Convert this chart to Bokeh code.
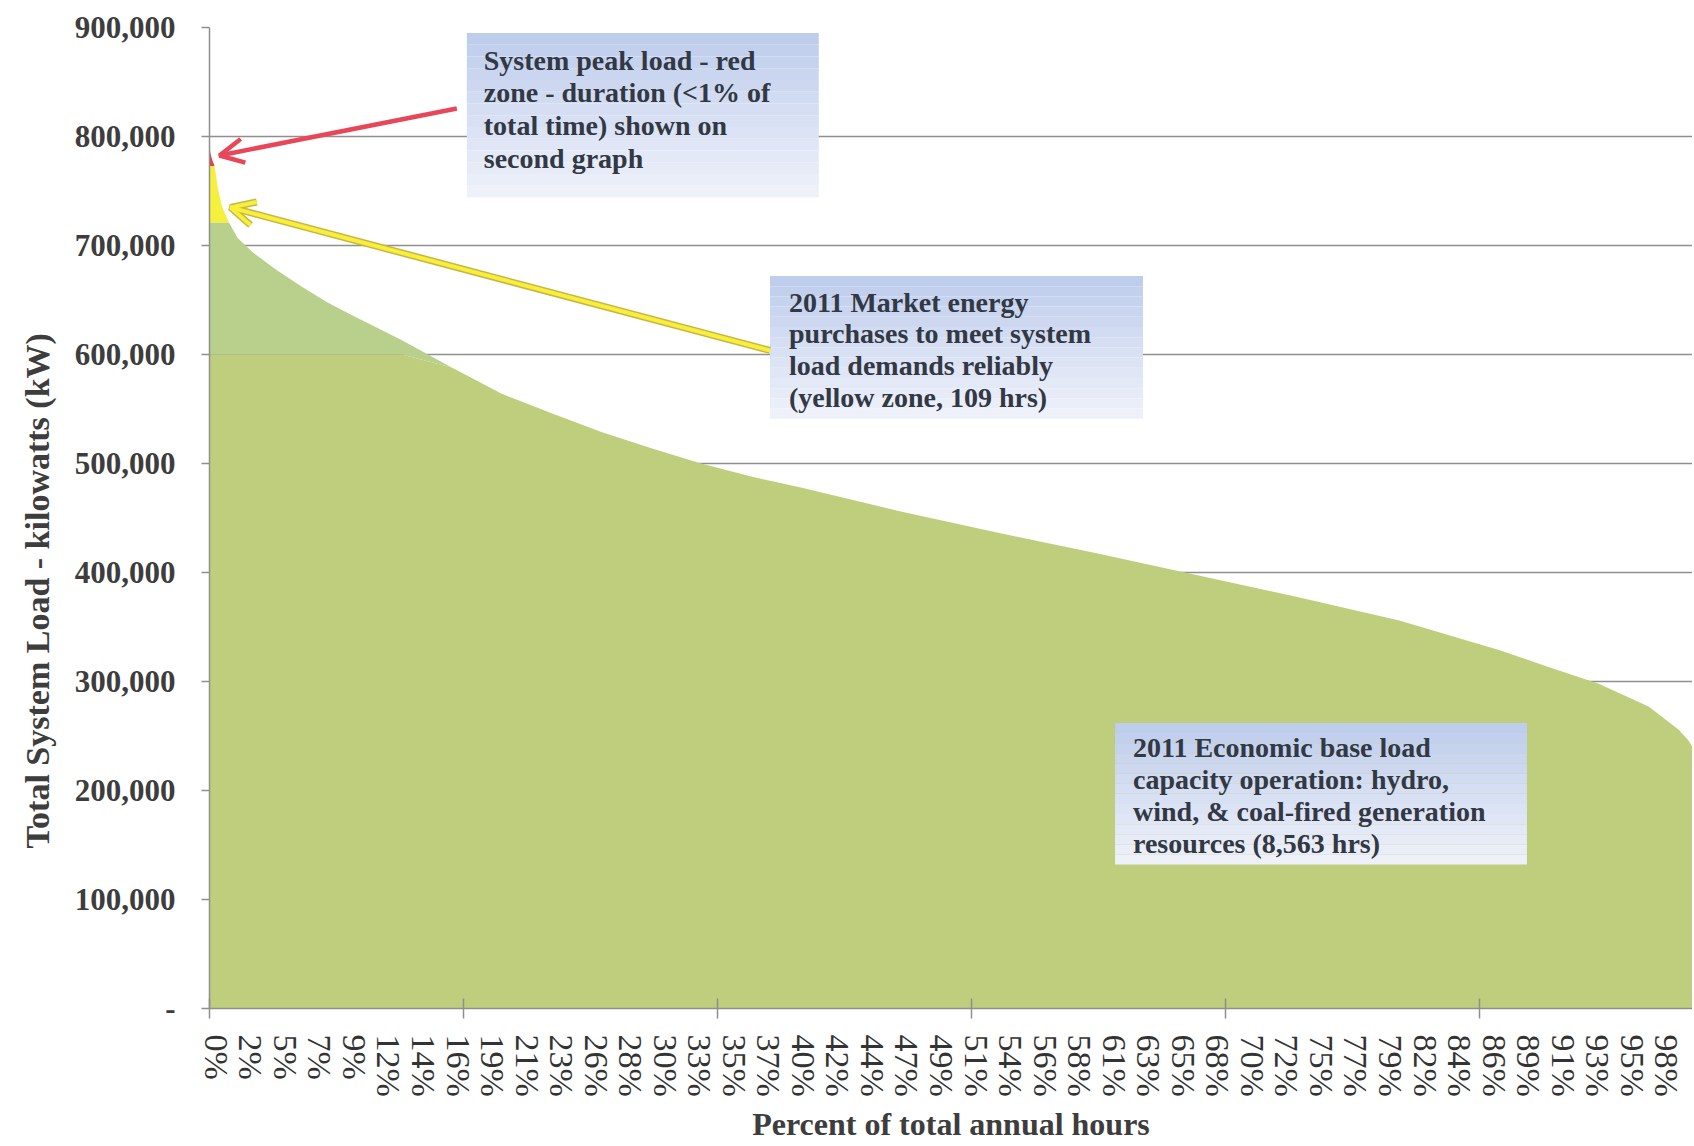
import numpy as np
from bokeh.plotting import figure
from bokeh.models import (FixedTicker, NumeralTickFormatter, Label, BoxAnnotation,
                          Arrow, OpenHead, Range1d, Title)
from bokeh.embed import file_html
from bokeh.resources import INLINE

# ---------------- data ----------------
hours = [0, 5, 15, 30, 50, 75, 115, 165, 253, 400, 548, 695, 842, 1137, 1431, 1726,
         2021, 2315, 2610, 2904, 3200, 3493, 4083, 4672, 5261, 5850, 6439, 7028, 7617,
         7914, 8206, 8501, 8677, 8735, 8760]
load_kw = [792000, 785000, 779000, 773000, 752000, 735000, 721000, 707000, 694000,
           677000, 662000, 648000, 636000, 613000, 588000, 564000, 546000, 529000,
           514000, 500000, 488000, 478000, 456000, 436000, 417000, 397000, 377000,
           356000, 329000, 313000, 298000, 277000, 256000, 246000, 240000]
base_cap_kw = 721000      # economic base load capacity
market_cap_kw = 773000    # above this: system peak (red zone)
tier_split_kw = 600000    # shade change inside the green zone

x_tick_labels = ["0%", "2%", "5%", "7%", "9%", "12%", "14%", "16%", "19%", "21%",
                 "23%", "26%", "28%", "30%", "33%", "35%", "37%", "40%", "42%",
                 "44%", "47%", "49%", "51%", "54%", "56%", "58%", "61%", "63%",
                 "65%", "68%", "70%", "72%", "75%", "77%", "79%", "82%", "84%",
                 "86%", "89%", "91%", "93%", "95%", "98%"]
x_label_step_hours = 204
x_label_center_shift = 40   # category labels sit at the category centre
x_tick_marks = [0, 1500, 3000, 4500, 6000, 7500]
y_ticks = [0, 100000, 200000, 300000, 400000, 500000, 600000, 700000, 800000, 900000]

SERIF = "Liberation Serif"
GRID = "#8f8f8f"

p = figure(width=1692, height=1144, x_range=Range1d(0, 8760), y_range=Range1d(0, 900000),
           output_backend="svg", toolbar_location=None,
           min_border_left=207, min_border_right=0, min_border_top=27, min_border_bottom=136)
p.outline_line_color = None
p.background_fill_color = "white"

# ---------------- areas ----------------
load = np.array(load_kw, dtype=float)
x = np.array(hours, dtype=float)
green_low = np.minimum(load, tier_split_kw)
green_high = np.minimum(load, base_cap_kw)
yellow_top = np.minimum(np.maximum(load, base_cap_kw), market_cap_kw)
red_top = np.maximum(load, market_cap_kw)

p.varea(x=x, y1=np.zeros_like(load), y2=green_low, color="#bfce7d")
p.varea(x=x, y1=green_low, y2=green_high, color="#b8d08b")
p.varea(x=x, y1=np.full_like(load, base_cap_kw), y2=yellow_top, color="#f5ef3e")
p.varea(x=x, y1=np.full_like(load, market_cap_kw), y2=red_top, color="#e2404f")

# ---------------- axes ----------------
p.xgrid.visible = False
p.ygrid.ticker = FixedTicker(ticks=y_ticks)
p.ygrid.grid_line_color = GRID
p.ygrid.grid_line_width = 1.6

ya = p.yaxis[0]
ya.ticker = FixedTicker(ticks=y_ticks)
ya.formatter = NumeralTickFormatter(format="0,0")
ya.major_label_overrides = {0: "-"}
ya.major_label_text_font = SERIF
ya.major_label_text_font_style = "bold"
ya.major_label_text_font_size = "31px"
ya.major_label_text_color = "#3d3d3d"
ya.major_label_standoff = 26
ya.major_tick_out = 8
ya.major_tick_in = 0
ya.minor_tick_line_color = None
ya.axis_line_color = GRID
ya.axis_line_width = 1.5
ya.major_tick_line_color = GRID
ya.major_tick_line_width = 1.5

label_pos = [i * x_label_step_hours + x_label_center_shift for i in range(len(x_tick_labels))]
xa = p.xaxis[0]
xa.ticker = FixedTicker(ticks=label_pos, minor_ticks=x_tick_marks)
xa.major_label_overrides = {pos: lab for pos, lab in zip(label_pos, x_tick_labels)}
xa.major_label_orientation = "vertical"
xa.major_label_text_font = SERIF
xa.major_label_text_font_size = "34px"
xa.major_label_text_color = "#333333"
xa.major_label_standoff = 16
xa.major_tick_line_color = None
xa.major_tick_out = 0
xa.major_tick_in = 0
xa.minor_tick_line_color = GRID
xa.minor_tick_line_width = 1.5
xa.minor_tick_in = 10
xa.minor_tick_out = 10
xa.axis_line_color = GRID
xa.axis_line_width = 1.5
xa.axis_label = "Percent of total annual hours"
xa.axis_label_text_font = SERIF
xa.axis_label_text_font_style = "bold"
xa.axis_label_text_font_size = "32px"
xa.axis_label_text_color = "#3d3d3d"
xa.axis_label_standoff = 6

# y-axis title, shifted down like in the reference
p.add_layout(Title(text="Total System Load - kilowatts (kW)", align="left",
                   offset=160, standoff=32, text_font=SERIF, text_font_style="bold",
                   text_font_size="34px", text_color="#3d3d3d"), "left")

# ---------------- annotation boxes ----------------
def hexmix(c1, c2, t):
    a = [int(c1[i:i + 2], 16) for i in (1, 3, 5)]
    b = [int(c2[i:i + 2], 16) for i in (1, 3, 5)]
    return "#" + "".join("%02x" % round(a[k] + (b[k] - a[k]) * t) for k in range(3))

def note_box(left, right, top, bottom, lines, text_x, line_ys):
    n = 14
    h = (top - bottom) / n
    for i in range(n):
        p.add_layout(BoxAnnotation(left=left, right=right, top=top - i * h,
                                   bottom=top - (i + 1) * h - 1,
                                   fill_color=hexmix("#bfcdec", "#eef1f9", i / (n - 1)),
                                   fill_alpha=1.0, line_color=None))
    for txt, yy in zip(lines, line_ys):
        p.add_layout(Label(x=text_x, y=yy, text=txt, text_baseline="middle",
                           text_font=SERIF, text_font_style="bold",
                           text_font_size="28px", text_color="#323844"))

note_box(1520, 3599, 895000, 744000,
         ["System peak load - red", "zone - duration (<1% of",
          "total time) shown on", "second graph"],
         1620, [870000, 840000, 810000, 780000])
note_box(3311, 5514, 672000, 541000,
         ["2011 Market energy", "purchases to meet system",
          "load demands reliably", "(yellow zone, 109 hrs)"],
         3423, [648000, 619000, 590000, 561000])
note_box(5349, 7782, 262000, 132000,
         ["2011 Economic base load", "capacity operation: hydro,",
          "wind, & coal-fired generation", "resources (8,563 hrs)"],
         5455, [239000, 210000, 181000, 151000])

# ---------------- arrows ----------------
p.add_layout(Arrow(end=OpenHead(line_color="#e8475a", line_width=4.5, size=24),
                   x_start=1461, y_start=825700, x_end=59, y_end=782600,
                   line_color="#e8475a", line_width=4.5))
p.add_layout(Arrow(end=OpenHead(line_color="#c9b545", line_width=7, size=24),
                   x_start=3311, y_start=603700, x_end=124, y_end=734900,
                   line_color="#c9b545", line_width=7))
p.add_layout(Arrow(end=OpenHead(line_color="#f6f03a", line_width=4, size=24),
                   x_start=3311, y_start=603700, x_end=124, y_end=734900,
                   line_color="#f6f03a", line_width=4))

open("out.html", "w").write(file_html(p, INLINE))
